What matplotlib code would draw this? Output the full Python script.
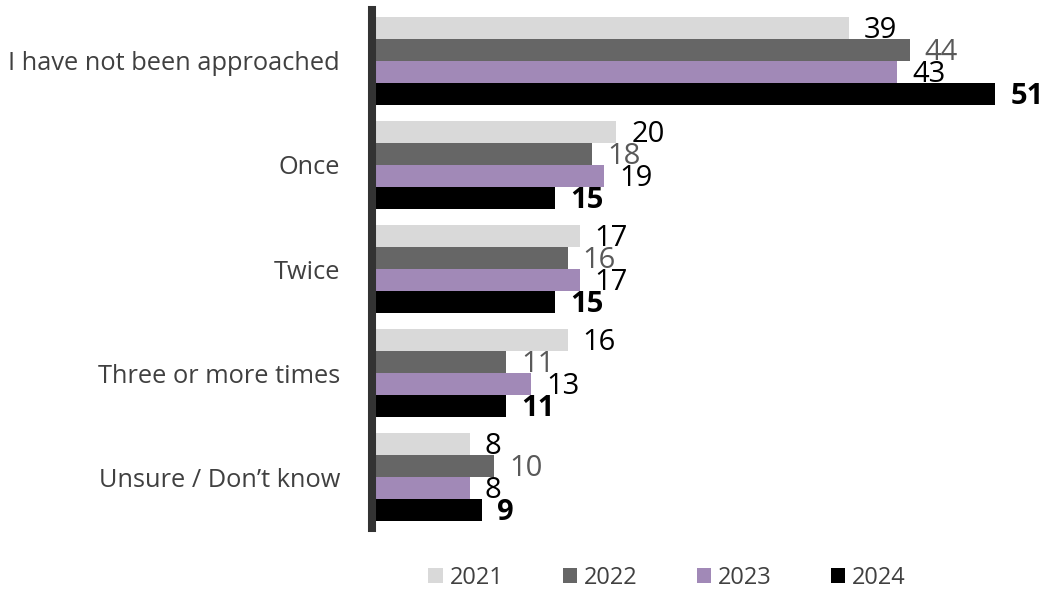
import matplotlib
matplotlib.use("agg")
from matplotlib import pyplot as plt
from matplotlib.patches import Patch
import numpy as np

plt.rcParams['font.family'] = ['Open Sans', 'DejaVu Sans']

categories = ["I have not been approached", "Once", "Twice",
              "Three or more times", "Unsure / Don\u2019t know"]
years = ["2021", "2022", "2023", "2024"]
values = {
    "2021": [39, 20, 17, 16, 8],
    "2022": [44, 18, 16, 11, 10],
    "2023": [43, 19, 17, 13, 8],
    "2024": [51, 15, 15, 11, 9],
}

colors = {"2021": "#D9D9D9", "2022": "#666666", "2023": "#A189B7", "2024": "#000000"}
label_colors = {"2021": "#000000", "2022": "#595959", "2023": "#000000", "2024": "#000000"}
label_weights = {"2021": "normal", "2022": "normal", "2023": "normal", "2024": "bold"}

W, H = 1044, 599
fig = plt.figure(figsize=(W / 100, H / 100), dpi=100)
ax_left, ax_top, ax_bottom = 372, 10, 528
ax = fig.add_axes([ax_left / W, 1 - ax_bottom / H, (W - ax_left) / W, (ax_bottom - ax_top) / H])

bar_h = 0.2115
y = np.arange(len(categories))
px_per_unit = 12.22

for k, yr in enumerate(years):
    pos = y + (k - 1.5) * bar_h
    ax.barh(pos, values[yr], height=bar_h, color=colors[yr], zorder=2)
    for p, v in zip(pos, values[yr]):
        ax.text(v + 15 / px_per_unit, p + 0.02, str(v), va="center", ha="left",
                fontsize=21, color=label_colors[yr], fontweight=label_weights[yr],
                zorder=3)

ax.set_xlim(0, (W - ax_left) / px_per_unit)
ax.set_ylim(4.49, -0.49)
ax.set_yticks(y)
ax.set_yticklabels(categories, fontsize=18.3, color="#404040")
ax.tick_params(axis="y", length=0, pad=23)
ax.set_xticks([])
for s in ["top", "right", "bottom"]:
    ax.spines[s].set_visible(False)
ax.spines["left"].set_color("#333333")
ax.spines["left"].set_linewidth(5.8)
ax.spines["left"].set_zorder(4)

handles = [Patch(facecolor=colors[yr], edgecolor="none", label=yr) for yr in years]
fig.legend(handles=handles, loc="center", bbox_to_anchor=(667 / W, 1 - 578 / H),
           ncol=4, frameon=False, fontsize=17, labelcolor="#404040",
           handlelength=0.6, handleheight=0.6, handletextpad=0.3,
           columnspacing=2.5)

fig.savefig("out.png", dpi=100)
